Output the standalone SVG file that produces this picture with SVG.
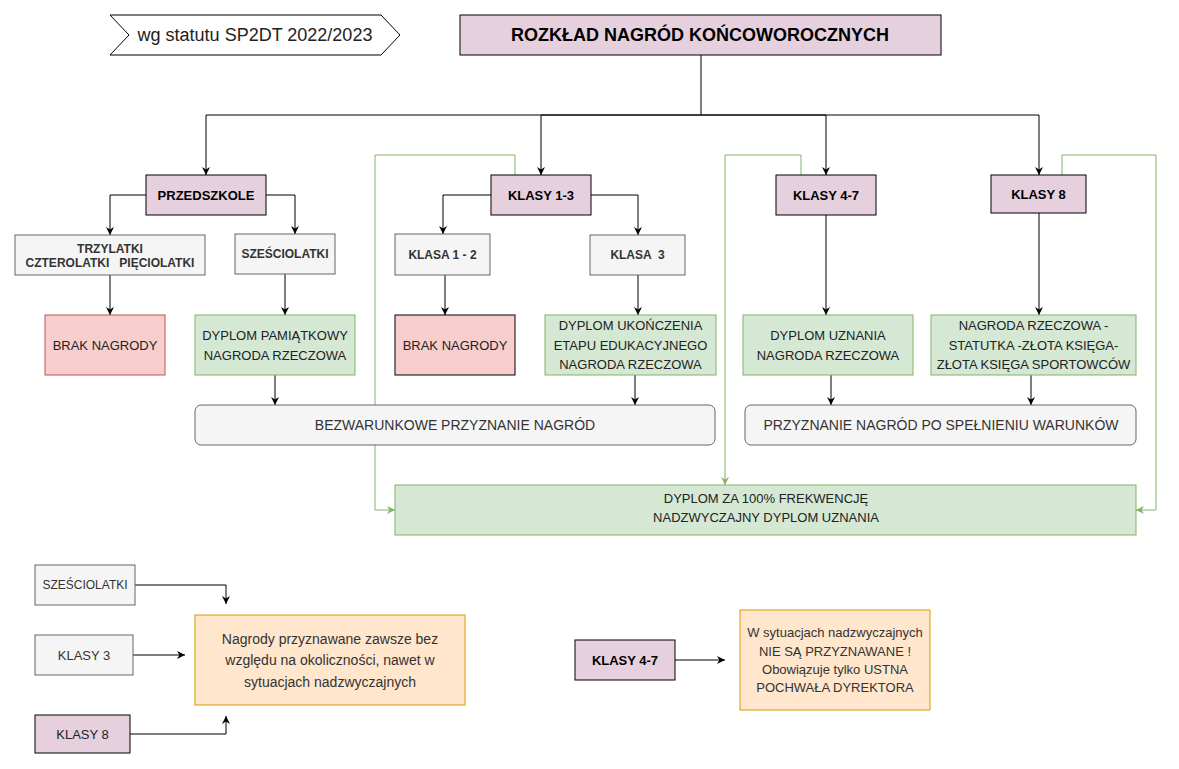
<svg xmlns="http://www.w3.org/2000/svg" width="1179" height="769" viewBox="0 0 1179 769">
<style>
text{font-family:"Liberation Sans",Arial,Helvetica,sans-serif;text-anchor:middle;}
.pink{fill:#e6d0de;stroke:#000;stroke-width:1;}
.grey{fill:#f5f5f5;stroke:#666;stroke-width:1;}
.green{fill:#d5e8d4;stroke:#82b366;stroke-width:1;}
.red{fill:#f8cecc;stroke:#b85450;stroke-width:1;}
.orange{fill:#ffe6cc;stroke:#d79b00;stroke-width:1;}
.b13{font-size:13px;font-weight:bold;fill:#000;}
.b12{font-size:12px;font-weight:bold;fill:#333;}
.r13{font-size:13px;fill:#222;}
.r14{font-size:14px;fill:#333;}
.pre{white-space:pre;}
.edge{fill:none;stroke:#000;stroke-width:1;marker-end:url(#arr);}
.gedge{fill:none;stroke:#82b366;stroke-width:1;marker-end:url(#garr);}
</style>
<defs>
<marker id="arr" viewBox="0 0 10 10" refX="10" refY="5" markerWidth="8" markerHeight="8" markerUnits="userSpaceOnUse" orient="auto">
<path d="M0,0 L10,5 L0,10 L3,5 z" fill="#000"/>
</marker>
<marker id="garr" viewBox="0 0 10 10" refX="10" refY="5" markerWidth="8" markerHeight="8" markerUnits="userSpaceOnUse" orient="auto">
<path d="M0,0 L10,5 L0,10 L3,5 z" fill="#82b366"/>
</marker>
</defs>
<rect width="1179" height="769" fill="#fff"/>

<g id="connectors">
<path class="edge" d="M701,55 V115 H206 V175"/>
<path class="edge" d="M701,115 H541 V175"/>
<path class="edge" d="M701,115 H826 V175"/>
<path class="edge" d="M701,115 H1039 V175"/>
<path class="edge" d="M146,195 H110 V235"/>
<path class="edge" d="M266,195 H295 V234"/>
<path class="edge" d="M491,195 H443 V234"/>
<path class="edge" d="M591,195 H638 V235"/>
<path class="edge" d="M110,275 V315"/>
<path class="edge" d="M285,274 V315"/>
<path class="edge" d="M445,275 V315"/>
<path class="edge" d="M638,275 V315"/>
<path class="edge" d="M826,215 V315"/>
<path class="edge" d="M1039,213 V315"/>
<path class="edge" d="M275,375 V405"/>
<path class="edge" d="M635,375 V405"/>
<path class="edge" d="M831,375 V405"/>
<path class="edge" d="M1031,375 V405"/>
<path class="edge" d="M135,585 H226 V604"/>
<path class="edge" d="M133,655 H185"/>
<path class="edge" d="M130,734 H226 V716"/>
<path class="edge" d="M675,660 H725"/>
<path class="gedge" d="M515,175 V155 H375 V510 H395"/>
<path class="gedge" d="M801,175 V155 H725 V485"/>
<path class="gedge" d="M1062,175 V155 H1156 V510 H1136"/>
</g>

<g id="statute">
<path d="M110,15 H381 L400,35 L381,55 H110 L129,35 Z" fill="#fff" stroke="#000" stroke-width="1"/>
<text x="255" y="41" style="font-size:18px;fill:#222;">wg statutu SP2DT 2022/2023</text>
</g>
<g id="title">
<rect class="pink" x="460" y="15" width="481" height="40"/>
<text x="700" y="41" style="font-size:18px;font-weight:bold;fill:#000;">ROZKŁAD NAGRÓD KOŃCOWOROCZNYCH</text>
</g>

<g id="przedszkole"><rect class="pink" x="146" y="175" width="120" height="40"/><text class="b13" x="206" y="200">PRZEDSZKOLE</text></g>
<g id="klasy13"><rect class="pink" x="491" y="175" width="100" height="40"/><text class="b13" x="541" y="200">KLASY 1-3</text></g>
<g id="klasy47"><rect class="pink" x="776" y="175" width="100" height="40"/><text class="b13" x="826" y="200">KLASY 4-7</text></g>
<g id="klasy8"><rect class="pink" x="991" y="175" width="95" height="38"/><text class="b13" x="1038.5" y="199">KLASY 8</text></g>

<g id="trzylatki"><rect class="grey" x="15" y="235" width="190" height="40"/><text class="b12 pre" x="110" y="253">TRZYLATKI</text><text class="b12 pre" x="110" y="267">CZTEROLATKI   PIĘCIOLATKI</text></g>
<g id="szesciolatki"><rect class="grey" x="235" y="234" width="100" height="40"/><text class="b12" x="285" y="258">SZEŚCIOLATKI</text></g>
<g id="klasa12"><rect class="grey" x="395" y="234" width="95" height="41"/><text class="b12" x="442.5" y="258.5">KLASA 1 - 2</text></g>
<g id="klasa3"><rect class="grey" x="590" y="235" width="95" height="40"/><text class="b12 pre" x="637.5" y="259">KLASA  3</text></g>

<g id="brak1"><rect class="red" x="45" y="315" width="120" height="60"/><text class="r13" x="105" y="350">BRAK NAGRODY</text></g>
<g id="dyplompam"><rect class="green" x="195" y="315" width="160" height="60"/><text class="r13" x="275" y="340">DYPLOM PAMIĄTKOWY</text><text class="r13" x="275" y="360">NAGRODA RZECZOWA</text></g>
<g id="brak2"><rect class="red" style="stroke:#000" x="395" y="315" width="120" height="60"/><text class="r13" x="455" y="350">BRAK NAGRODY</text></g>
<g id="dyplomuk"><rect class="green" x="545" y="315" width="171" height="60"/><text class="r13" x="630.5" y="330">DYPLOM UKOŃCZENIA</text><text class="r13" x="630.5" y="350">ETAPU EDUKACYJNEGO</text><text class="r13" x="630.5" y="369">NAGRODA RZECZOWA</text></g>
<g id="dyplomuz"><rect class="green" x="743" y="315" width="170" height="60"/><text class="r13" x="828" y="340">DYPLOM UZNANIA</text><text class="r13" x="828" y="360">NAGRODA RZECZOWA</text></g>
<g id="nagroda"><rect class="green" x="931" y="315" width="205" height="60"/><text class="r13" x="1033.5" y="330">NAGRODA RZECZOWA -</text><text class="r13" x="1033.5" y="350">STATUTKA -ZŁOTA KSIĘGA-</text><text class="r13" x="1033.5" y="369">ZŁOTA KSIĘGA SPORTOWCÓW</text></g>

<g id="bezwarunkowe"><rect class="grey" x="195" y="405" width="520" height="40" rx="6"/><text class="r14" x="455" y="430">BEZWARUNKOWE PRZYZNANIE NAGRÓD</text></g>
<g id="warunkowe"><rect class="grey" x="745" y="405" width="391" height="40" rx="6"/><text class="r14" x="941" y="430">PRZYZNANIE NAGRÓD PO SPEŁNIENIU WARUNKÓW</text></g>

<g id="frekwencja"><rect class="green" x="395" y="485" width="741" height="50"/><text class="r13" x="766" y="503">DYPLOM ZA 100% FREKWENCJĘ</text><text class="r13" x="766" y="522">NADZWYCZAJNY DYPLOM UZNANIA</text></g>

<g id="szesciolatki2"><rect class="grey" x="35" y="565" width="100" height="40"/><text x="85" y="589" style="font-size:12px;fill:#333;">SZEŚCIOLATKI</text></g>
<g id="klasy3b"><rect class="grey" x="35" y="635" width="98" height="40"/><text x="84" y="660" style="font-size:13px;fill:#333;">KLASY 3</text></g>
<g id="klasy8b"><rect class="pink" x="35" y="715" width="95" height="38"/><text x="82.5" y="739" style="font-size:13px;fill:#222;">KLASY 8</text></g>
<g id="note1"><rect class="orange" x="195" y="615" width="270" height="90"/><text class="r14" x="330" y="644">Nagrody przyznawane zawsze bez</text><text class="r14" x="330" y="665">względu na okoliczności, nawet w</text><text class="r14" x="330" y="687">sytuacjach nadzwyczajnych</text></g>

<g id="klasy47b"><rect class="pink" x="575" y="640" width="100" height="40"/><text class="b13" x="625" y="665">KLASY 4-7</text></g>
<g id="note2"><rect class="orange" x="740" y="610" width="190" height="100"/><text x="835" y="637" style="font-size:13px;fill:#333;">W sytuacjach nadzwyczajnych</text><text x="835" y="656" style="font-size:13px;fill:#333;">NIE SĄ PRZYZNAWANE !</text><text x="835" y="674" style="font-size:13px;fill:#333;">Obowiązuje tylko USTNA</text><text x="835" y="692" style="font-size:13px;fill:#333;">POCHWAŁA DYREKTORA</text></g>
</svg>
